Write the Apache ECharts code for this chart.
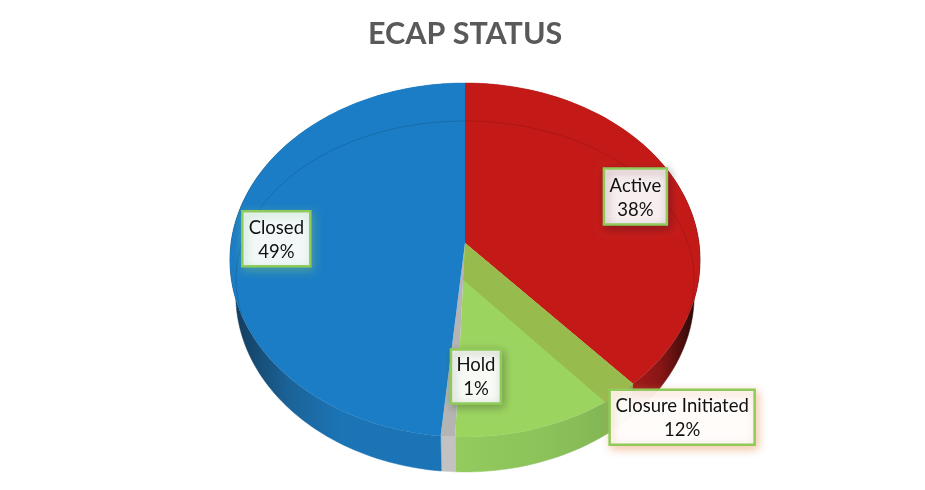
<!DOCTYPE html>
<html><head><meta charset="utf-8">
<style>html,body{margin:0;padding:0;background:#fff}#c{width:925px;height:490px}</style>
<script src="https://cdn.jsdelivr.net/npm/echarts@6/dist/echarts.min.js"></script>
</head><body><div id="c"></div>
<script>
// Data, clockwise from 12 o'clock
const categories = ['Active', 'Closure Initiated', 'Hold', 'Closed'];
const values = [38.4, 12.2, 0.9, 48.5];
const titleText = 'ECAP STATUS';

// Projection of the tilted disc
const CX = 465, APEX_Y = 243, W = 234, B = 152, C = -0.096, DEPTH = 35, BOTTOM_SCALE = 0.975;
function project(deg, r) {
  r = r === undefined ? 1 : r;
  const a = deg * Math.PI / 180, u = r * Math.sin(a), v = -r * Math.cos(a), d = 1 + C * v;
  return [CX + W * u / d, (APEX_Y + B * v) / d];
}
function arcPts(a0, a1, fn) {
  const n = Math.max(2, Math.ceil(Math.abs(a1 - a0) / 1.5)), out = [];
  for (let i = 0; i <= n; i++) out.push(fn(a0 + (a1 - a0) * i / n));
  return out;
}
const LG = (x0, x1, stops) => new echarts.graphic.LinearGradient(x0, 0, x1, 0,
  stops.map((c, i) => ({ offset: i / (stops.length - 1), color: c })), true);

const faceColors = ['#C41A17', '#9BD45F', '#B4B4B4', '#1A7DC5'];
const wallFills = [
  LG(625, 695, ['#A81A1A', '#8A1616', '#2A0808']),
  LG(455, 640, ['#93CB5E', '#8CC25A', '#7DB050']),
  '#C2C2C2',
  LG(238, 340, ['#143F60', '#1B6398', '#1B74B5'])
];
const BAND_FRAC = 0.19, BAND_COLOR = '#97BB4D';
const labelOffsets = [[-41, 14], [130, -7], [28, -60], [44, 4]];
const labelSizes = [[63, 56], [145, 55], [50, 54], [68, 55]];
const labelShadow = ['rgba(60,20,40,.45)', 'rgba(230,140,80,.55)', 'rgba(70,90,50,.5)', 'rgba(120,190,120,.55)'];
const labelFill = ['rgba(255,255,255,.93)', 'rgba(255,255,255,.95)', 'rgba(255,255,255,.95)', 'rgba(255,255,255,.93)'];

let acc = 0;
const rows = categories.map((n, i) => {
  const s = acc; acc += values[i];
  return [s * 3.6, acc * 3.6, values[i], i];
});

function renderItem(params, api) {
  const a0 = api.value(0), a1 = api.value(1), i = api.value(3);
  const kids = [];
  // outer wall
  const topArc = arcPts(a0, a1, a => project(a));
  const botArc = arcPts(a0, a1, a => { const p = project(a); return [CX + (p[0] - CX) * BOTTOM_SCALE, p[1] + DEPTH]; });
  kids.push({ type: 'polygon', z2: 1, shape: { points: topArc.concat(botArc.reverse()) },
    style: { fill: wallFills[i], stroke: wallFills[i], lineWidth: 0.5 } });
  // top face
  const apex = project(0, 0);
  kids.push({ type: 'polygon', z2: 5, shape: { points: [apex].concat(topArc) },
    style: { fill: faceColors[i] } });
  // shaded bevel on the slice's leading edge
  if (i === 1) {
    const span = a1 - a0, end = project(a1);
    const inner = [apex[0] + (end[0] - apex[0]) * BAND_FRAC, apex[1] + (end[1] - apex[1]) * BAND_FRAC];
    kids.push({ type: 'polygon', z2: 6, shape: {
      points: [apex].concat(arcPts(a0, a0 + span * BAND_FRAC, a => project(a)), [inner]) },
      style: { fill: BAND_COLOR } });
  }
  // label box
  const mid = project((a0 + a1) / 2), off = labelOffsets[i], sz = labelSizes[i];
  const bx = mid[0] + off[0], by = mid[1] + off[1];
  kids.push({ type: 'rect', z2: 20,
    shape: { x: bx - sz[0] / 2, y: by - sz[1] / 2, width: sz[0], height: sz[1] },
    style: { fill: labelFill[i], stroke: '#8FCB5A', lineWidth: 2.5,
      shadowBlur: 9, shadowColor: labelShadow[i], shadowOffsetX: 2, shadowOffsetY: 3 } });
  kids.push({ type: 'text', z2: 21, x: bx, y: by + 1,
    style: { text: categories[i] + '\n' + Math.round(values[i]) + '%', fill: '#111',
      font: '18.5px Lato, "Open Sans", sans-serif', lineHeight: 24,
      textAlign: 'center', textVerticalAlign: 'middle' } });
  return { type: 'group', children: kids };
}

// faint inner rim on the far part of the disc
function renderRim(params, api) {
  if (params.dataIndex !== 0) return;
  const pts = arcPts(-103, 103, a => {
    const r = a * Math.PI / 180;
    return [CX + 229 * Math.sin(r), 279 - 158 * Math.cos(r)];
  });
  return { type: 'polyline', z2: 7, shape: { points: pts },
    style: { fill: 'none', stroke: 'rgba(0,0,0,.13)', lineWidth: 1 } };
}

const chart = echarts.init(document.getElementById('c'), null, { renderer: 'canvas' });
chart.setOption({
  animation: false,
  backgroundColor: '#fff',
  title: { text: titleText, left: 363, top: 14,
    textStyle: { fontFamily: 'Lato, "Open Sans", sans-serif', fontWeight: 'bold', fontSize: 30.5, color: '#595959' } },
  tooltip: { show: false },
  series: [
    { type: 'custom', coordinateSystem: 'none', renderItem, data: rows, silent: true, z: 2 },
    { type: 'custom', coordinateSystem: 'none', renderItem: renderRim, data: [[0]], silent: true, z: 2 }
  ]
});
</script></body></html>
